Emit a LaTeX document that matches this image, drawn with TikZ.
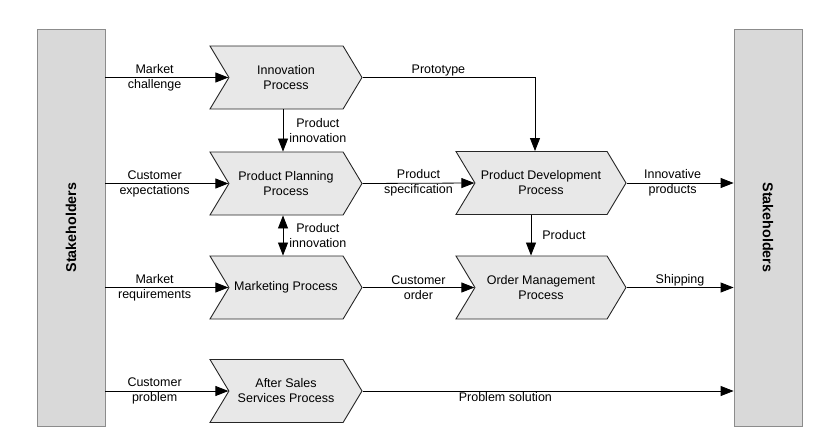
\documentclass[tikz,border=0pt]{standalone}
\usepackage{fontspec}
\setmainfont{Liberation Sans}
\usetikzlibrary{arrows.meta,shapes.symbols}

\definecolor{stakegray}{HTML}{D9D9D9}
\definecolor{procgray}{HTML}{E8E8E8}
\newcommand{\procfont}{\fontsize{12.5}{15}\selectfont}

\tikzset{
	process/.style={signal, signal from=west, signal to=east, signal pointer angle=118,
		draw=black!85, line width=0.9pt, fill=procgray, minimum width=152pt,
		minimum height=63pt, inner sep=0pt, align=center, font=\procfont},
	stakebox/.style={rectangle, draw=black!45, fill=stakegray, line width=0.8pt,
		minimum width=68pt, minimum height=397pt, font=\fontsize{14.3}{16}\selectfont\bfseries},
	flow/.style={line width=0.8pt, -{Triangle[length=13pt,width=10pt]}},
	flowlabel/.style={align=center, font=\procfont, inner sep=1pt}
}

\begin{document}
\begin{tikzpicture}[x=1pt,y=-1pt]
		\useasboundingbox (0,0) rectangle (821,440);
		% stakeholders
		\node[stakebox] (lstake) at (71,227.5) {\rotatebox{90}{Stakeholders}};
		\node[stakebox] (rstake) at (768,227.5) {\rotatebox{-90}{Stakeholders}};
		% processes
		\node[process] (innov) at (286,77.5) {Innovation\\Process};
		\node[process] (plan) at (286,183.5) {Product Planning\\Process};
		\node[process] (market) at (286,287.5) {Marketing Process};
		\node[process] (service) at (286,391) {After Sales\\Services Process};
		\node[process, minimum width=170pt] (develop) at (541,183) {Product Development\\Process};
		\node[process, minimum width=170pt] (order) at (541,287.5) {Order Management\\Process};
		% inputs from stakeholders
		\draw[flow] (lstake.east |- innov.west) -- node[flowlabel, pos=0.4] {Market\\challenge} (innov.west);
		\draw[flow] (lstake.east |- plan.west) -- node[flowlabel, pos=0.4] {Customer\\expectations} (plan.west);
		\draw[flow] (lstake.east |- market.west) -- node[flowlabel, pos=0.4] {Market\\requirements} (market.west);
		\draw[flow] (lstake.east |- service.west) -- node[flowlabel, pos=0.4] {Customer\\problem} (service.west);
		% between processes
		\draw[flow] (innov.east) -| node[flowlabel, above, pos=0.22] {Prototype} ([xshift=-6pt]develop.north);
		\draw[flow] ([xshift=-3pt]innov.south) -- node[flowlabel, right=5pt] {Product\\innovation} ([xshift=-3pt]plan.north);
		\draw[line width=0.8pt, {Triangle[length=13pt,width=10pt]}-{Triangle[length=13pt,width=10pt]}]
			([xshift=-3pt]plan.south) -- node[flowlabel, right=5pt] {Product\\innovation} ([xshift=-3pt]market.north);
		\draw[flow] (plan.east) -- node[flowlabel] {Product\\specification} (develop.west);
		\draw[flow] ([xshift=-10pt]develop.south) -- node[flowlabel, right=10pt] {Product} ([xshift=-10pt]order.north);
		\draw[flow] (market.east) -- node[flowlabel] {Customer\\order} (order.west);
		% outputs to stakeholders
		\draw[flow] (develop.east) -- node[flowlabel, pos=0.43] {Innovative\\products} (rstake.west |- develop.east);
		\draw[flow] (order.east) -- node[flowlabel, above] {Shipping} (rstake.west |- order.east);
		\draw[flow] (service.east) -- node[flowlabel, below, pos=0.385] {Problem solution} (rstake.west |- service.east);
\end{tikzpicture}
\end{document}
